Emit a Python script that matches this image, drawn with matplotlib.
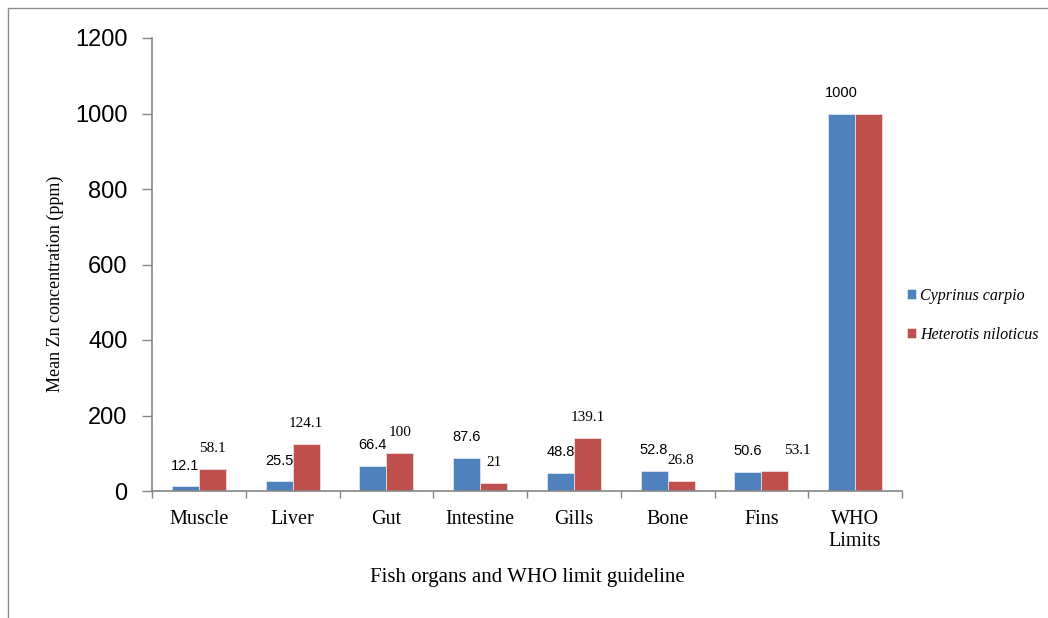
import matplotlib
matplotlib.use("Agg")
import matplotlib.pyplot as plt
import numpy as np
from matplotlib.patches import Rectangle

categories = ["Muscle", "Liver", "Gut", "Intestine", "Gills", "Bone", "Fins", "WHO\nLimits"]
cyprinus = [12.1, 25.5, 66.4, 87.6, 48.8, 52.8, 50.6, 1000]
heterotis = [58.1, 124.1, 100, 21, 139.1, 26.8, 53.1, 1000]
series_names = ["Cyprinus carpio", "Heterotis niloticus"]
yticks = [0, 200, 400, 600, 800, 1000, 1200]

BLUE = "#4F81BD"
RED = "#C0504D"
AXIS = "#868686"
SANS = "Liberation Sans"
SERIF = "Liberation Serif"

fig = plt.figure(figsize=(10.48, 6.18), dpi=100)
ax = fig.add_axes([152 / 1048, 1 - 491 / 618, 750 / 1048, 453 / 618])

x = np.arange(len(categories))
w = 0.288
ax.bar(x - w / 2, cyprinus, w, color=BLUE, edgecolor="#dfe6f0", linewidth=0.6,
       label=series_names[0])
ax.bar(x + w / 2, heterotis, w, color=RED, edgecolor="#f0dcdc", linewidth=0.6,
       label=series_names[1])

ax.set_xlim(-0.5, len(categories) - 0.5)
ax.set_ylim(0, 1200)
ax.set_yticks(yticks)
ax.set_yticklabels([str(t) for t in yticks], fontfamily=SANS, fontsize=17)
ax.tick_params(axis="y", direction="out", length=7, width=1, color=AXIS, pad=10.5)

ax.set_xticks(x)
ax.set_xticklabels(categories, fontfamily=SERIF, fontsize=14.5, linespacing=1.2)
ax.set_xticks(np.arange(-0.5, len(categories)), minor=True)
ax.tick_params(axis="x", which="major", length=0, pad=14)
ax.tick_params(axis="x", which="minor", direction="out", length=5, width=1, color=AXIS)

for side in ["top", "right"]:
    ax.spines[side].set_visible(False)
for side in ["left", "bottom"]:
    ax.spines[side].set_color(AXIS)
    ax.spines[side].set_linewidth(1.2)

ax.set_ylabel("Mean Zn concentration (ppm)", fontfamily=SERIF, fontsize=13)
ax.yaxis.set_label_coords(-88 / 750, (491 - 284) / 453)
ax.set_xlabel("Fish organs and WHO limit guideline", fontfamily=SERIF, fontsize=15, labelpad=12)

# value labels: blue series in sans, red series in serif
for i, v in enumerate(cyprinus):
    ax.annotate(f"{v:g}", (x[i] - w / 2, v), xytext=(0, 15), textcoords="offset points",
                ha="center", va="center", fontfamily=SANS, fontsize=10.5)
red_dx = [0, 0, 0, 0, 0, 0, 16, 0]
for i, v in enumerate(heterotis[:-1]):
    ax.annotate(f"{v:g}", (x[i] + w / 2, v), xytext=(red_dx[i], 15), textcoords="offset points",
                ha="center", va="center", fontfamily=SERIF, fontsize=11)

ax.legend(loc="center left", bbox_to_anchor=(0.987, 0.388), frameon=False,
          prop={"family": SERIF, "style": "italic", "size": 11.5},
          handlelength=0.6, handleheight=0.6, handletextpad=0.25, labelspacing=1.45)

# outer frame
fig.patches.append(Rectangle((8 / 1048, -0.1), 1.2, 1.1 - 8 / 618,
                             transform=fig.transFigure, fill=False, edgecolor="#8c8c8c",
                             linewidth=1.0))

fig.savefig("out.png", dpi=100)
